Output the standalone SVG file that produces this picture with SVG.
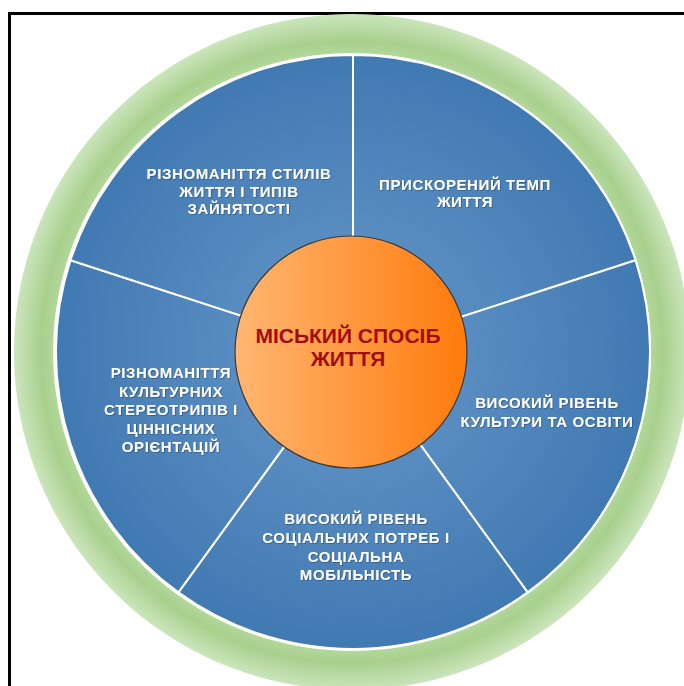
<svg xmlns="http://www.w3.org/2000/svg" width="684" height="686" viewBox="0 0 684 686">
<defs>
<radialGradient id="gRing" cx="352" cy="352" r="338" gradientUnits="userSpaceOnUse">
<stop offset="0.87" stop-color="#b6da9f"/>
<stop offset="0.92" stop-color="#a8d08d"/>
<stop offset="1" stop-color="#cbe5bc"/>
</radialGradient>
<radialGradient id="gBlue" cx="353" cy="352" r="297" gradientUnits="userSpaceOnUse">
<stop offset="0.35" stop-color="#5a8ec2"/>
<stop offset="1" stop-color="#4179b2"/>
</radialGradient>
<linearGradient id="gOrange" x1="0" y1="0" x2="1" y2="0">
<stop offset="0" stop-color="#ffb672"/>
<stop offset="1" stop-color="#ff7b0c"/>
</linearGradient>
<filter id="sh" x="-10%" y="-10%" width="120%" height="130%">
<feDropShadow dx="0.8" dy="0.8" stdDeviation="0.6" flood-color="#1f3d5c" flood-opacity="0.6"/>
</filter>
</defs>
<style>
.seg{fill:url(#gBlue);stroke:#ffffff;stroke-width:2;stroke-linejoin:round}
.t{font-family:"Liberation Sans",Arial,sans-serif;font-weight:bold;font-size:15px;letter-spacing:0.6px;fill:#ffffff;text-anchor:middle;filter:url(#sh)}
.c{font-family:"Liberation Sans",Arial,sans-serif;font-weight:bold;font-size:21px;fill:#a00d0d;text-anchor:middle}
</style>
<rect width="684" height="686" fill="#ffffff"/>
<g id="frame" stroke="#000000" stroke-width="3" fill="none">
<line x1="8" y1="13.5" x2="684" y2="13.5"/>
<line x1="9.5" y1="12" x2="9.5" y2="686"/>
</g>
<g id="ring">
<path d="M352,14 A338,338 0 1,1 351.9,14 Z M352,53 A299,299 0 1,0 352.1,53 Z" fill="url(#gRing)" fill-rule="evenodd"/>
</g>
<g id="connectors"></g>
<g id="seg-top-right">
<path class="seg" d="M353,352 L353,55 A297,297 0 0,1 635.5,260.2 Z"/>
<text class="t" x="465" y="190">ПРИСКОРЕНИЙ ТЕМП</text>
<text class="t" x="465" y="207">ЖИТТЯ</text>
</g>
<g id="seg-right">
<path class="seg" d="M353,352 L635.5,260.2 A297,297 0 0,1 527.6,592.3 Z"/>
<text class="t" x="547" y="408">ВИСОКИЙ РІВЕНЬ</text>
<text class="t" x="547" y="427">КУЛЬТУРИ ТА ОСВІТИ</text>
</g>
<g id="seg-bottom">
<path class="seg" d="M353,352 L527.6,592.3 A297,297 0 0,1 178.4,592.3 Z"/>
<text class="t" x="356" y="524">ВИСОКИЙ РІВЕНЬ</text>
<text class="t" x="356" y="543">СОЦІАЛЬНИХ ПОТРЕБ І</text>
<text class="t" x="356" y="562">СОЦІАЛЬНА</text>
<text class="t" x="356" y="580">МОБІЛЬНІСТЬ</text>
</g>
<g id="seg-left">
<path class="seg" d="M353,352 L178.4,592.3 A297,297 0 0,1 70.5,260.2 Z"/>
<text class="t" x="171" y="378">РІЗНОМАНІТТЯ</text>
<text class="t" x="171" y="397">КУЛЬТУРНИХ</text>
<text class="t" x="171" y="415">СТЕРЕОТРИПІВ І</text>
<text class="t" x="171" y="434">ЦІННІСНИХ</text>
<text class="t" x="171" y="452">ОРІЄНТАЦІЙ</text>
</g>
<g id="seg-top-left">
<path class="seg" d="M353,352 L70.5,260.2 A297,297 0 0,1 353,55 Z"/>
<text class="t" x="239" y="179">РІЗНОМАНІТТЯ СТИЛІВ</text>
<text class="t" x="239" y="197">ЖИТТЯ І ТИПІВ</text>
<text class="t" x="239" y="214">ЗАЙНЯТОСТІ</text>
</g>
<g id="center">
<circle cx="351" cy="352" r="116" fill="url(#gOrange)" stroke="#3a3a3a" stroke-width="1.2"/>
<text class="c" x="348" y="343">МІСЬКИЙ СПОСІБ</text>
<text class="c" x="348" y="366">ЖИТТЯ</text>
</g>
</svg>
